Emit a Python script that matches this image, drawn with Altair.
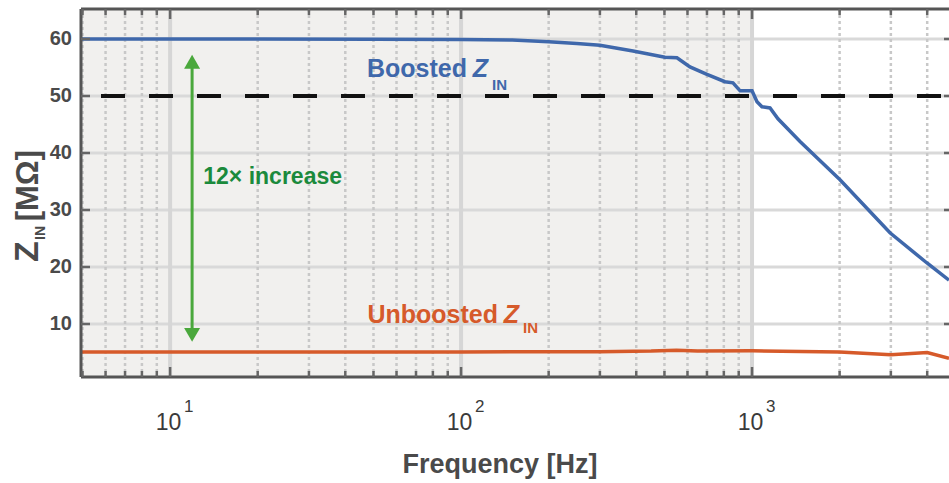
import altair as alt
import pandas as pd

# Axis ranges (log frequency, linear impedance)
FREQ_MIN, FREQ_MAX = 4.94, 4753
Z_MIN, Z_MAX = 0.7, 65.26

# Boosted input impedance [MOhm] vs frequency [Hz]
boost_freq = [4.94, 20, 50, 100, 150, 200, 250, 300, 390, 502, 552, 612, 700, 807, 860, 910,
              1000, 1040, 1082, 1153, 1228, 1462, 2006, 2979, 3992, 4753]
boost_z = [60.0, 60.0, 59.95, 59.9, 59.8, 59.5, 59.2, 58.9, 57.9, 56.8, 56.7, 55.1, 53.8, 52.5,
           52.3, 50.9, 50.9, 49.0, 48.1, 47.9, 46.0, 42.0, 35.3, 26.0, 20.7, 17.7]

# Unboosted input impedance [MOhm]
unboost_freq = [4.94, 50, 100, 300, 450, 550, 650, 1000, 2000, 3000, 4000, 4753]
unboost_z = [5.1, 5.1, 5.1, 5.15, 5.25, 5.4, 5.25, 5.3, 5.1, 4.6, 5.0, 4.0]

# Target level and shaded band
threshold = [50]
shade_end = [1000]

# Grid / tick positions
z_ticks = [10, 20, 30, 40, 50, 60]
decades = [10, 100, 1000]
decade_exp = ["1", "2", "3"]
minor_freq = [5, 6, 7, 8, 9, 20, 30, 40, 50, 60, 70, 80, 90,
              200, 300, 400, 500, 600, 700, 800, 900, 2000, 3000, 4000]

# Annotations
arrow_freq = [11.9]
arrow_span = [8.1, 56.0]
increase_text = ["12× increase"]
increase_pos = [13.0, 35.8]
series_names = ["Boosted", "Unboosted"]
series_label_freq = [125.7, 160.7]
series_label_z = [53.3, 10.2]
series_sub_z = [51.05, 8.4]

W, H = 868, 368
FONT = "Liberation Sans, Arial, sans-serif"
BLUE = "#3f68ab"
ORANGE = "#d65a2a"
FRAME = "#555555"
TEXT = "#4a4a4a"

xs = alt.Scale(type="log", domain=[FREQ_MIN, FREQ_MAX])
ys = alt.Scale(domain=[Z_MIN, Z_MAX], nice=False, zero=False)


def X(field):
    return alt.X(field, type="quantitative", scale=xs, axis=None)


def Y(field):
    return alt.Y(field, type="quantitative", scale=ys, axis=None)


bg_df = pd.DataFrame({"f0": [FREQ_MIN], "f1": shade_end})
zt_df = pd.DataFrame({"z": z_ticks})
dec_df = pd.DataFrame({"f": decades, "e": decade_exp})
minor_df = pd.DataFrame({"f": minor_freq})
boost_df = pd.DataFrame({"f": boost_freq, "z": boost_z})
unboost_df = pd.DataFrame({"f": unboost_freq, "z": unboost_z})
thr_df = pd.DataFrame({"f0": [FREQ_MIN], "f1": [FREQ_MAX], "z": threshold})
arrow_df = pd.DataFrame({"f": arrow_freq, "z0": [arrow_span[0]], "z1": [arrow_span[1]]})
inc_df = pd.DataFrame({"f": [increase_pos[0]], "z": [increase_pos[1]], "t": increase_text})
lab_df = pd.DataFrame({"f": series_label_freq, "z": series_label_z, "zs": series_sub_z,
                       "name": series_names})
one_df = pd.DataFrame({"k": [0]})

# shaded band up to 1 kHz
shade = alt.Chart(bg_df).mark_rect(color="#f1f0ee").encode(
    x=X("f0"), x2="f1", y=alt.value(0), y2=alt.value(H))

hgrid = alt.Chart(zt_df).mark_rule(color="#d9d9d9", strokeWidth=3).encode(
    y=Y("z"), x=alt.value(0), x2=alt.value(W))

vminor = alt.Chart(minor_df).mark_rule(color="#c8c8c8", strokeWidth=2.5, strokeDash=[3, 3]).encode(
    x=X("f"), y=alt.value(0), y2=alt.value(H))

vmajor = alt.Chart(dec_df).mark_rule(color="#d6d6d6", strokeWidth=4).encode(
    x=X("f"), y=alt.value(0), y2=alt.value(H))

thr = alt.Chart(thr_df).mark_rule(color="#111111", strokeWidth=4, strokeDash=[24, 24],
                                  strokeDashOffset=28).encode(
    x=X("f0"), x2="f1", y=Y("z"))

unboost = alt.Chart(unboost_df).mark_line(color=ORANGE, strokeWidth=3.5).encode(
    x=X("f"), y=Y("z"))
boost = alt.Chart(boost_df).mark_line(color=BLUE, strokeWidth=3.5).encode(
    x=X("f"), y=Y("z"))

GREEN = "#4aa83c"
arrow_shaft = alt.Chart(arrow_df).mark_rule(color=GREEN, strokeWidth=3).encode(
    x=X("f"), y=Y("z0"), y2="z1")
arrow_top = alt.Chart(arrow_df).mark_point(shape="triangle-up", filled=True, color=GREEN,
                                           size=256, opacity=1).encode(x=X("f"), y=Y("z1"))
arrow_bot = alt.Chart(arrow_df).mark_point(shape="triangle-down", filled=True, color=GREEN,
                                           size=256, opacity=1).encode(x=X("f"), y=Y("z0"))
inc_txt = alt.Chart(inc_df).mark_text(font=FONT, fontSize=23, fontWeight="bold",
                                      color="#1b8a3c", align="left", baseline="middle").encode(
    x=X("f"), y=Y("z"), text="t:N")

ser_color = alt.Color("name:N", scale=alt.Scale(domain=series_names, range=[BLUE, ORANGE]),
                      legend=None)
lab_main = alt.Chart(lab_df).mark_text(font=FONT, fontSize=25, fontWeight="bold",
                                       align="right", baseline="alphabetic", dx=-23).encode(
    x=X("f"), y=Y("z"), text="name:N", color=ser_color)
lab_z = alt.Chart(lab_df).mark_text(font=FONT, fontSize=25, fontWeight="bold",
                                    fontStyle="italic", align="right", baseline="alphabetic",
                                    dx=-2).encode(
    x=X("f"), y=Y("z"), text=alt.value("Z"), color=ser_color)
lab_sub = alt.Chart(lab_df).mark_text(font=FONT, fontSize=15, fontWeight="bold",
                                      align="left", baseline="alphabetic", dx=2).encode(
    x=X("f"), y=Y("zs"), text=alt.value("IN"), color=ser_color)

# frame and inward ticks
frame_left = alt.Chart(one_df).mark_rule(color=FRAME, strokeWidth=3).encode(
    x=alt.value(0), y=alt.value(0), y2=alt.value(H))
frame_top = alt.Chart(one_df).mark_rule(color=FRAME, strokeWidth=3).encode(
    x=alt.value(0), x2=alt.value(W), y=alt.value(0))
frame_bot = alt.Chart(one_df).mark_rule(color=FRAME, strokeWidth=3).encode(
    x=alt.value(0), x2=alt.value(W), y=alt.value(H))

tick_l = alt.Chart(zt_df).mark_rule(color="#666666", strokeWidth=2.5).encode(
    y=Y("z"), x=alt.value(0), x2=alt.value(9))
tick_r = alt.Chart(zt_df).mark_rule(color="#666666", strokeWidth=2.5).encode(
    y=Y("z"), x=alt.value(W - 5), x2=alt.value(W))
tick_b_major = alt.Chart(dec_df).mark_rule(color="#666666", strokeWidth=2.5).encode(
    x=X("f"), y=alt.value(H), y2=alt.value(H - 10))
tick_t_major = alt.Chart(dec_df).mark_rule(color="#666666", strokeWidth=2.5).encode(
    x=X("f"), y=alt.value(0), y2=alt.value(10))
tick_b_minor = alt.Chart(minor_df).mark_rule(color="#666666", strokeWidth=2.5).encode(
    x=X("f"), y=alt.value(H), y2=alt.value(H - 6))
tick_t_minor = alt.Chart(minor_df).mark_rule(color="#666666", strokeWidth=2.5).encode(
    x=X("f"), y=alt.value(0), y2=alt.value(6))

# tick labels
ylab = alt.Chart(zt_df).mark_text(font=FONT, fontSize=20, fontWeight="bold", color=TEXT,
                                  align="right", baseline="middle").encode(
    y=Y("z"), x=alt.value(-9), text="z:Q")
xlab = alt.Chart(dec_df).mark_text(font=FONT, fontSize=23, color="#3a3a3a",
                                   align="center", baseline="alphabetic", dx=-1.5).encode(
    x=X("f"), y=alt.value(421), text=alt.value("10"))
xexp = alt.Chart(dec_df).mark_text(font=FONT, fontSize=17, color="#3a3a3a",
                                   align="left", baseline="alphabetic", dx=14).encode(
    x=X("f"), y=alt.value(403), text="e:N")

# axis titles
xtitle = alt.Chart(one_df).mark_text(font=FONT, fontSize=27, fontWeight="bold", color=TEXT,
                                     align="center", baseline="alphabetic").encode(
    x=alt.value(419), y=alt.value(464), text=alt.value("Frequency [Hz]"))
yt_z = alt.Chart(one_df).mark_text(font=FONT, fontSize=34, fontWeight="bold", color=TEXT,
                                   align="left", baseline="alphabetic", angle=270).encode(
    x=alt.value(-43), y=alt.value(253), text=alt.value("Z"))
yt_sub = alt.Chart(one_df).mark_text(font=FONT, fontSize=14, fontWeight="bold", color=TEXT,
                                     align="left", baseline="alphabetic", angle=270).encode(
    x=alt.value(-36), y=alt.value(231), text=alt.value("IN"))
yt_unit = alt.Chart(one_df).mark_text(font=FONT, fontSize=31, fontWeight="bold", color=TEXT,
                                      align="right", baseline="alphabetic", angle=270).encode(
    x=alt.value(-43), y=alt.value(141), text=alt.value("[MΩ]"))

chart = alt.layer(
    shade, hgrid, vminor, vmajor, thr, unboost, boost,
    arrow_shaft, arrow_top, arrow_bot, inc_txt, lab_main, lab_z, lab_sub,
    frame_left, frame_top, frame_bot, tick_l, tick_r,
    tick_b_major, tick_t_major, tick_b_minor, tick_t_minor,
    ylab, xlab, xexp, xtitle, yt_z, yt_sub, yt_unit,
).properties(
    width=W, height=H,
    padding={"left": 81, "top": 9, "right": 0, "bottom": 106},
    autosize=alt.AutoSizeParams(type="none"),
    background="white",
).configure_view(stroke=None)

chart.save("out.html", embed_options={"renderer": "svg", "actions": False})
